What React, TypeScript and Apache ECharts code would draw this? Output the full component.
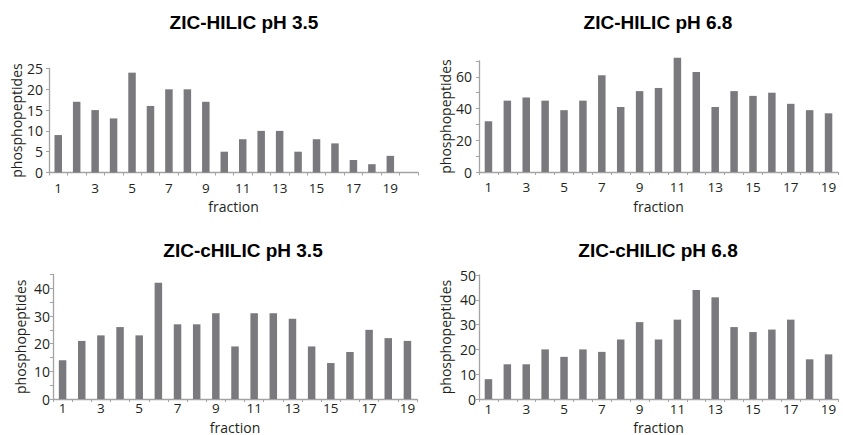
import React, { useEffect, useRef } from "react";
import * as echarts from "echarts";

const titles = ["ZIC-HILIC pH 3.5", "ZIC-HILIC pH 6.8", "ZIC-cHILIC pH 3.5", "ZIC-cHILIC pH 6.8"];
const fractions20 = ["1","2","3","4","5","6","7","8","9","10","11","12","13","14","15","16","17","18","19","20"];
const fractions19 = ["1","2","3","4","5","6","7","8","9","10","11","12","13","14","15","16","17","18","19"];
const hilic35 = [9, 17, 15, 13, 24, 16, 20, 20, 17, 5, 8, 10, 10, 5, 8, 7, 3, 2, 4];
const hilic68 = [32, 45, 47, 45, 39, 45, 61, 41, 51, 53, 72, 63, 41, 51, 48, 50, 43, 39, 37];
const chilic35 = [14, 21, 23, 26, 23, 42, 27, 27, 31, 19, 31, 31, 29, 19, 13, 17, 25, 22, 21];
const chilic68 = [8, 14, 14, 20, 17, 20, 19, 24, 31, 24, 32, 44, 41, 29, 27, 28, 32, 16, 18];
const yMax = [25, 70, 45, 50];
const yStep = [5, 10, 5, 10];
const yLabelStep = [5, 20, 10, 10];
const xName = "fraction";
const yName = "phosphopeptides";

export default function App() {
  const ref = useRef<HTMLDivElement>(null);
  useEffect(() => {
    if (!ref.current) return;
    document.body.style.margin = "0";
    const chart = echarts.init(ref.current, undefined, { renderer: "svg" });
    const font = "'Open Sans', sans-serif";
    const axisColor = "#a3a3a3";
    const textColor = "#231f20";
    const barColor = "#7a7a7e";
    const grids = [
      { left: 49, top: 68.5, width: 369, height: 104 },
      { left: 479, top: 61, width: 359, height: 111 },
      { left: 53, top: 274.5, width: 364, height: 125.5 },
      { left: 479, top: 275, width: 359, height: 125.5 },
    ];
    const xLabelMargin = [8, 8, 2, 3];
    const xNameGap = [27, 27, 21, 21];
    const yLabelMargin = [6, 7, 3, 3];
    const yNameGap = [24, 27, 26, 27];
    const titlePos = [
      { left: 239, top: 8 },
      { left: 653, top: 8 },
      { left: 238, top: 236 },
      { left: 653, top: 236 },
    ];
    const cats = [fractions20, fractions19, fractions19, fractions19];
    const vals = [hilic35, hilic68, chilic35, chilic68];

    chart.setOption({
      animation: false,
      backgroundColor: "#ffffff",
      title: titles.map((t, i) => ({
        text: t,
        left: titlePos[i].left,
        top: titlePos[i].top,
        textAlign: "center",
        textStyle: { fontFamily: "'Liberation Sans', Arial, sans-serif", fontWeight: "bold", fontSize: 19, color: "#000" },
      })),
      grid: grids.map((g) => ({ ...g, containLabel: false })),
      xAxis: cats.map((c, i) => ({
        type: "category",
        gridIndex: i,
        data: c,
        boundaryGap: true,
        name: xName,
        nameLocation: "middle",
        nameGap: xNameGap[i],
        nameTextStyle: { fontFamily: font, fontSize: 14, color: textColor },
        axisLine: { lineStyle: { color: axisColor, width: 1.3 } },
        axisTick: { show: true, interval: 0, length: 3, lineStyle: { color: axisColor } },
        axisLabel: { interval: 1, margin: xLabelMargin[i], fontFamily: font, fontSize: 13.5, color: textColor },
        splitLine: { show: false },
      })),
      yAxis: vals.map((_, i) => ({
        type: "value",
        gridIndex: i,
        min: 0,
        max: yMax[i],
        interval: yStep[i],
        name: yName,
        nameLocation: "middle",
        nameRotate: 90,
        nameGap: yNameGap[i],
        nameTextStyle: { fontFamily: font, fontSize: 14, color: textColor },
        axisLine: { show: true, lineStyle: { color: axisColor, width: 1.3 } },
        axisTick: { show: true, length: 3, lineStyle: { color: axisColor } },
        axisLabel: {
          margin: yLabelMargin[i],
          fontFamily: font,
          fontSize: 14,
          color: textColor,
          formatter: (v: number) => (v % yLabelStep[i] === 0 ? String(v) : ""),
        },
        splitLine: { show: false },
      })),
      series: vals.map((v, i) => ({
        type: "bar",
        xAxisIndex: i,
        yAxisIndex: i,
        data: v,
        barWidth: 7.5,
        clip: false,
        itemStyle: { color: barColor },
      })),
    });
    return () => chart.dispose();
  }, []);
  return <div ref={ref} style={{ width: 843, height: 435 }} />;
}
